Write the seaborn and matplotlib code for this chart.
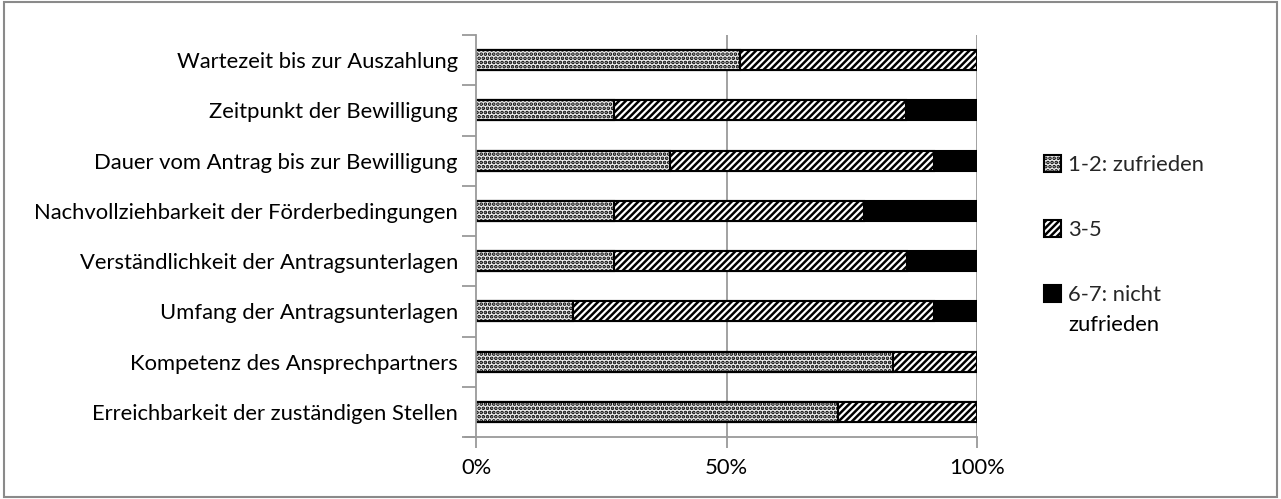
import matplotlib
matplotlib.use("Agg")
import matplotlib.pyplot as plt
from matplotlib.patches import Patch
import numpy as np
import pandas as pd
import seaborn as sns

# Satisfaction ratings per aspect (shares in percent)
aspects = [
    "Wartezeit bis zur Auszahlung",
    "Zeitpunkt der Bewilligung",
    "Dauer vom Antrag bis zur Bewilligung",
    "Nachvollziehbarkeit der Förderbedingungen",
    "Verständlichkeit der Antragsunterlagen",
    "Umfang der Antragsunterlagen",
    "Kompetenz des Ansprechpartners",
    "Erreichbarkeit der zuständigen Stellen",
]
zufrieden = [52.7, 27.6, 38.7, 27.6, 27.6, 19.3, 83.2, 72.2]
mittel = [47.3, 58.3, 52.7, 49.9, 58.4, 72.1, 16.8, 27.8]
nicht_zufrieden = [0.0, 14.1, 8.6, 22.5, 14.0, 8.6, 0.0, 0.0]

series_labels = ["1-2: zufrieden", "3-5", "6-7: nicht", "zufrieden"]
x_ticks = [0, 50, 100]
x_tick_labels = ["0%", "50%", "100%"]

df = pd.DataFrame({
    "aspect": aspects,
    "s1": zufrieden,
    "s2": mittel,
    "s3": nicht_zufrieden,
})
df["c1"] = df["s1"]
df["c2"] = df["s1"] + df["s2"]
df["c3"] = df["c2"] + df["s3"]

sns.set_theme(style="white")
plt.rcParams["font.family"] = ["Lato", "DejaVu Sans"]
plt.rcParams["hatch.linewidth"] = 1.8

FS = 15.8
GRID = "#9a9a9a"

fig = plt.figure(figsize=(12.81, 4.99), dpi=100)
ax = fig.add_axes([476 / 1281, 1 - 437 / 499, 501 / 1281, 402 / 499])

bar_kw = dict(orient="h", width=0.4, edgecolor="black", linewidth=1.5, ax=ax)

# Stacked bars: draw cumulative totals from the back to the front
sns.barplot(data=df, x="c3", y="aspect", color="black", **bar_kw)
n_before = len(ax.patches)
sns.barplot(data=df, x="c2", y="aspect", color="white", **bar_kw)
for p in ax.patches[n_before:]:
    p.set_facecolor("white")
    p.set_hatch("/////")
n_before = len(ax.patches)
sns.barplot(data=df, x="c1", y="aspect", color="#eeeeee", **bar_kw)
for p in ax.patches[n_before:]:
    p.set_facecolor("#ececec")
    p.set_hatch("....")

ax.set_xlim(0, 100)
ax.set_ylim(len(aspects) - 0.5, -0.5)
ax.set_xticks(x_ticks)
ax.set_xticklabels(x_tick_labels, fontsize=FS, color="black")
ax.set_yticks(np.arange(len(aspects)))
ax.set_yticklabels(aspects, fontsize=FS, color="black")
ax.set_xlabel("")
ax.set_ylabel("")

# grid lines at the tick positions
for v in x_ticks[1:]:
    ax.axvline(v, color=GRID, linewidth=1.3, zorder=0)
for s in ["top", "right"]:
    ax.spines[s].set_visible(False)
for s in ["left", "bottom"]:
    ax.spines[s].set_color(GRID)
    ax.spines[s].set_linewidth(1.3)

# tick marks: x ticks at values, y ticks between categories
ax.tick_params(axis="x", which="major", length=8, width=1.3, color=GRID,
               direction="out", pad=7, bottom=True)
ax.tick_params(axis="y", which="major", length=0, pad=13)
ax.set_yticks(np.arange(-0.5, len(aspects), 1.0), minor=True)
ax.tick_params(axis="y", which="minor", length=10, width=1.3, color=GRID,
               direction="out", left=True)
ax.spines["bottom"].set_bounds(0, 100)

# left extension of the x-axis line below the last category
ax.plot([-2.2, 0], [len(aspects) - 0.5, len(aspects) - 0.5], color=GRID,
        linewidth=1.3, clip_on=False, zorder=1)

handles = [
    Patch(facecolor="#ececec", edgecolor="black", hatch="....", linewidth=1.5),
    Patch(facecolor="white", edgecolor="black", hatch="/////", linewidth=1.5),
    Patch(facecolor="black", edgecolor="black", linewidth=1.5),
]
leg = fig.legend(handles, series_labels[:3], loc="upper left",
                 bbox_to_anchor=(1035 / 1281, 1 - 146 / 499), frameon=False,
                 fontsize=FS, labelspacing=2.05, handlelength=0.8,
                 handleheight=0.8, handletextpad=0.3, borderaxespad=0)

# second line of the last legend label, aligned under the first line
fig.canvas.draw()
last = leg.get_texts()[2]
bb = last.get_window_extent()
fig.text(bb.x0 / fig.bbox.width, (bb.y0 - 30) / fig.bbox.height,
         series_labels[3], fontsize=FS, color="black", ha="left", va="bottom")

# outer frame around the whole chart
fig.patches.append(plt.Rectangle((0.003, 0.004), 0.994, 0.992,
                                 transform=fig.transFigure, fill=False,
                                 edgecolor="#8a8a8a", linewidth=1.5))

fig.savefig("out.png", dpi=100)
